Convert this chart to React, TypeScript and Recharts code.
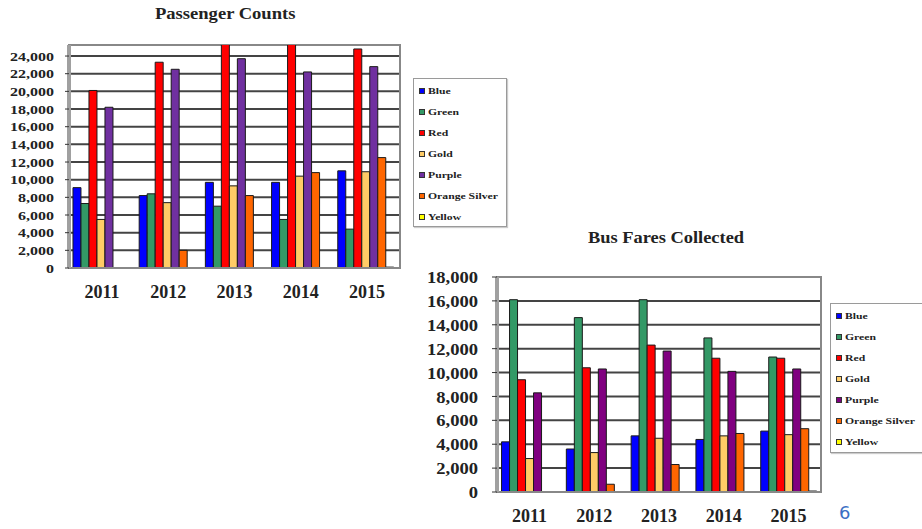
import React from "react";
import { BarChart, Bar, XAxis, YAxis, CartesianGrid, Legend, ReferenceArea } from "recharts";

// categories and series
const years = ["2011", "2012", "2013", "2014", "2015"];
const seriesNames = ["Blue", "Green", "Red", "Gold", "Purple", "Orange Silver", "Yellow"];
const seriesKeys = ["blue", "green", "red", "gold", "purple", "orange", "yellow"];

// Passenger Counts
const passBlue = [9100, 8200, 9700, 9700, 11000];
const passGreen = [7300, 8400, 7000, 5500, 4400];
const passRed = [20100, 23300, 26000, 26000, 24800];
const passGold = [5500, 7400, 9300, 10400, 10900];
const passPurple = [18200, 22500, 23700, 22200, 22800];
const passOrange = [0, 2000, 8200, 10800, 12500];
const passYellow = [0, 0, 0, 0, 100];
const passTicks = [0, 2000, 4000, 6000, 8000, 10000, 12000, 14000, 16000, 18000, 20000, 22000, 24000];

// Bus Fares Collected
const fareBlue = [4200, 3600, 4700, 4400, 5100];
const fareGreen = [16100, 14600, 16100, 12900, 11300];
const fareRed = [9400, 10400, 12300, 11200, 11200];
const fareGold = [2800, 3300, 4500, 4700, 4800];
const farePurple = [8300, 10300, 11800, 10100, 10300];
const fareOrange = [0, 650, 2300, 4900, 5300];
const fareYellow = [0, 0, 0, 0, 80];
const fareTicks = [0, 2000, 4000, 6000, 8000, 10000, 12000, 14000, 16000, 18000];

const passColors = ["#0000ff", "#339966", "#ff0000", "#ffcc66", "#7030a0", "#ff6600", "#ffff00"];
const fareColors = ["#0000ff", "#339966", "#ff0000", "#ffcc66", "#800080", "#ff6600", "#ffff00"];

const SERIF = "'Liberation Serif', 'Times New Roman', serif";

const buildRows = (cols: number[][]) =>
  years.map((year, i) => {
    const row: any = { year };
    seriesKeys.forEach((k, j) => {
      row[k] = cols[j][i];
    });
    return row;
  });

const passData = buildRows([passBlue, passGreen, passRed, passGold, passPurple, passOrange, passYellow]);
const fareData = buildRows([fareBlue, fareGreen, fareRed, fareGold, farePurple, fareOrange, fareYellow]);

const YTick = (props: any) => {
  const { x, y, payload, size, stretch } = props;
  const label = Number(payload.value).toLocaleString("en-US");
  const commas = (label.match(/,/g) || []).length;
  const natural = ((label.length - commas) * 0.5 + commas * 0.25) * size;
  return (
    <text
      x={x}
      y={y}
      dy="0.36em"
      textAnchor="end"
      fontSize={size}
      fontWeight="bold"
      fontFamily={SERIF}
      fill="#222"
      textLength={natural * stretch}
      lengthAdjust="spacingAndGlyphs"
    >
      {label}
    </text>
  );
};

const XTick = (props: any) => {
  const { x, y, payload } = props;
  return (
    <text x={x} y={y} dy="0.71em" textAnchor="middle" fontSize={18} fontWeight="bold" fontFamily={SERIF} fill="#222">
      {payload.value}
    </text>
  );
};

const LegendBox = ({ colors }: { colors: string[] }) => (
  <div
    style={{
      width: "100%",
      height: "100%",
      boxSizing: "border-box",
      border: "1px solid #9a9a9a",
      boxShadow: "1px 1px 1px #ccc",
      background: "#fff",
      paddingTop: 1,
      fontFamily: SERIF,
    }}
  >
    {seriesNames.map((n, i) => (
      <div key={n} style={{ display: "flex", alignItems: "center", height: 21 }}>
        <span
          style={{
            display: "inline-block",
            width: 4,
            height: 4,
            background: colors[i],
            border: "1px solid #333",
            marginLeft: 5,
          }}
        />
        <span
          style={{
            display: "inline-block",
            marginLeft: 3,
            fontSize: 9,
            fontWeight: "bold",
            color: "#222",
            whiteSpace: "nowrap",
            transform: "scaleX(1.3)",
            transformOrigin: "left center",
          }}
        >
          {n}
        </span>
      </div>
    ))}
  </div>
);

const Title = ({ text, left, top, stretch }: any) => (
  <div
    style={{
      position: "absolute",
      left,
      top,
      fontFamily: SERIF,
      fontWeight: "bold",
      fontSize: 16,
      color: "#222",
      whiteSpace: "nowrap",
      transform: `scaleX(${stretch})`,
      transformOrigin: "left center",
    }}
  >
    {text}
  </div>
);

const App = () => (
  <div style={{ position: "absolute", left: 0, top: 0, width: 922, height: 529, overflow: "hidden", background: "#fff" }}>
    <Title text="Passenger Counts" left={155} top={5} stretch={1.16} />
    <div style={{ position: "absolute", left: 0, top: 0 }}>
      <BarChart
        width={520}
        height={310}
        data={passData}
        margin={{ top: 45, right: 120, bottom: 0, left: 0 }}
        barCategoryGap="6%"
        barGap={0}
      >
        <CartesianGrid vertical={false} stroke="#444" strokeWidth={2} />
        <XAxis
          dataKey="year"
          height={42}
          tickLine={false}
          tickMargin={11}
          axisLine={{ stroke: "#888", strokeWidth: 2 }}
          tick={<XTick />}
        />
        <YAxis
          width={69}
          domain={[0, 25250]}
          allowDataOverflow
          ticks={passTicks}
          interval={0}
          tickSize={4}
          tickMargin={11}
          tickLine={{ stroke: "#333" }}
          axisLine={{ stroke: "#a0a0a0", strokeWidth: 4 }}
          tick={<YTick size={13} stretch={1.23} />}
        />
        <ReferenceArea y1={0} y2={25250} fill="none" stroke="#888" strokeWidth={2} />
        {seriesKeys.map((k, i) => (
          <Bar key={k} dataKey={k} name={seriesNames[i]} fill={passColors[i]} stroke="#1a1a1a" strokeWidth={1} isAnimationActive={false} />
        ))}
        <Legend
          layout="horizontal"
          align="center"
          verticalAlign="middle"
          wrapperStyle={{ left: 413, top: 78, width: 94, height: 149 }}
          content={() => <LegendBox colors={passColors} />}
        />
      </BarChart>
    </div>

    <Title text="Bus Fares Collected" left={588} top={229} stretch={1.15} />
    <div style={{ position: "absolute", left: 400, top: 220 }}>
      <BarChart
        width={522}
        height={309}
        data={fareData}
        margin={{ top: 57, right: 101, bottom: 0, left: 0 }}
        barCategoryGap="7%"
        barGap={0}
      >
        <CartesianGrid vertical={false} stroke="#444" strokeWidth={2} />
        <XAxis
          dataKey="year"
          height={37}
          tickLine={false}
          tickMargin={11}
          axisLine={{ stroke: "#888", strokeWidth: 2 }}
          tick={<XTick />}
        />
        <YAxis
          width={97}
          domain={[0, 18000]}
          ticks={fareTicks}
          interval={0}
          tickSize={5}
          tickMargin={14}
          tickLine={{ stroke: "#333" }}
          axisLine={{ stroke: "#a0a0a0", strokeWidth: 4 }}
          tick={<YTick size={17} stretch={1.09} />}
        />
        <ReferenceArea y1={0} y2={18000} fill="none" stroke="#888" strokeWidth={2} />
        {seriesKeys.map((k, i) => (
          <Bar key={k} dataKey={k} name={seriesNames[i]} fill={fareColors[i]} stroke="#1a1a1a" strokeWidth={1} isAnimationActive={false} />
        ))}
        <Legend
          layout="horizontal"
          align="center"
          verticalAlign="middle"
          wrapperStyle={{ left: 430, top: 83, width: 96, height: 150 }}
          content={() => <LegendBox colors={fareColors} />}
        />
      </BarChart>
    </div>

    <div
      style={{
        position: "absolute",
        left: 839,
        top: 502,
        fontFamily: "'DejaVu Sans', sans-serif",
        fontSize: 18,
        color: "#3b6fc4",
      }}
    >
      6
    </div>
  </div>
);

export default App;
